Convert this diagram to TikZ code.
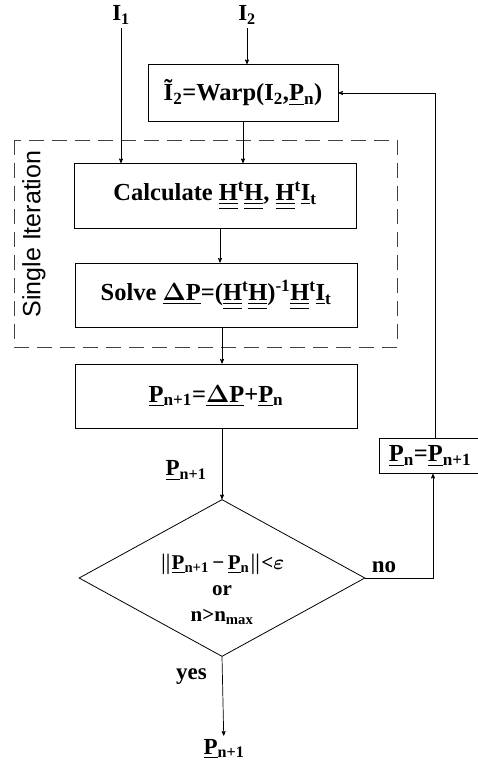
\documentclass[tikz,border=0pt]{standalone}
\usepackage{amsmath,amssymb}
\usepackage{fontspec}
\setmainfont{Liberation Serif}
\newfontfamily\labelsans{Liberation Sans}
\usetikzlibrary{shapes,arrows,positioning,calc}

\newcommand{\uvec}[1]{\underline{#1}}
\newcommand{\umat}[1]{\underline{\underline{#1}}}

\tikzset{
    box/.style={draw, line width=0.8pt, minimum width=282pt, minimum height=64pt, inner sep=2pt},
    arr/.style={line width=0.7pt, -stealth'},
    lbl/.style={font=\bfseries\fontsize{23}{27}\selectfont}
}

\begin{document}
\begin{tikzpicture}[x=1pt, y=-1pt, every node/.style={font=\bfseries\fontsize{24.5}{28}\selectfont}]
    \useasboundingbox (0,0) rectangle (478,767);

    % inputs
    \node[lbl] (i1) at (121,15) {I\textsubscript{1}};
    \node[lbl] (i2) at (247,15) {I\textsubscript{2}};

    % warp step
    \node[box, minimum width=190pt, minimum height=57pt] (warp) at (243,93)
        {\~{I}\textsubscript{2}=Warp(I\textsubscript{2},\uvec{P}\textsubscript{n})};

    % single iteration
    \draw[black!75, line width=0.8pt, dash pattern=on 15pt off 8pt] (14,140) rectangle (397,347);
    \node[rotate=90, font=\labelsans\fontsize{25}{28}\selectfont] (single) at (34,234) {Single Iteration};

    \node[box, minimum height=65pt] (calc) at (215,196)
        {Calculate \umat{H}\textsuperscript{t}\umat{H}, \umat{H}\textsuperscript{t}\uvec{I}\textsubscript{t}};
    \node[box] (solve) at (216,295)
        {Solve \uvec{$\boldsymbol{\Delta}$P}=(\umat{H}\textsuperscript{t}\umat{H})\textsuperscript{-1}\umat{H}\textsuperscript{t}\uvec{I}\textsubscript{t}};

    % update
    \node[box] (upd) at (216,396)
        {\uvec{P}\textsubscript{n+1}=\uvec{$\boldsymbol{\Delta}$P}+\uvec{P}\textsubscript{n}};

    % convergence test
    \node[draw, diamond, aspect=1.82, line width=0.8pt, inner sep=0pt, minimum width=286pt, minimum height=157pt] (test) at (222,578) {};
    \node[align=center, font=\bfseries\fontsize{21}{26}\selectfont] (testtxt) at (222,589)
        {$\boldsymbol{\|}$\uvec{P}\textsubscript{n+1}\,−\,\uvec{P}\textsubscript{n}$\boldsymbol{\|}$<$\boldsymbol{\varepsilon}$\\or\\n>n\textsubscript{max}};

    \node[box, minimum width=102pt, minimum height=35pt] (reset) at (430,456)
        {\uvec{P}\textsubscript{n}=\uvec{P}\textsubscript{n+1}};

    \node[lbl] (out) at (224,749) {\uvec{P}\textsubscript{n+1}};

    % connectors
    \draw[arr] (i1) -- (i1 |- calc.north);
    \draw[arr] (i2) -- (i2 |- warp.north);
    \draw[arr] (warp.south) -- (warp.south |- calc.north);
    \draw[arr] (calc.south -| 220,0) -- (solve.north -| 220,0);
    \draw[arr] (solve.south -| 222,0) -- (upd.north -| 222,0);
    \draw[arr] (upd.south -| test.north) -- node[left, lbl, xshift=-12pt, yshift=-7pt] (pnext) {\uvec{P}\textsubscript{n+1}} (test.north);
    \draw[arr] (test.east) -| node[pos=0.02, above right, lbl, yshift=2pt] (no) {no} ($(reset.south)+(3,0)$);
    \draw[arr] ($(reset.north)+(5,0)$) |- (warp.east);
    \draw[arr] (test.south) -- node[pos=0.25, left, lbl, xshift=-12pt] (yes) {yes} (out);
\end{tikzpicture}
\end{document}
